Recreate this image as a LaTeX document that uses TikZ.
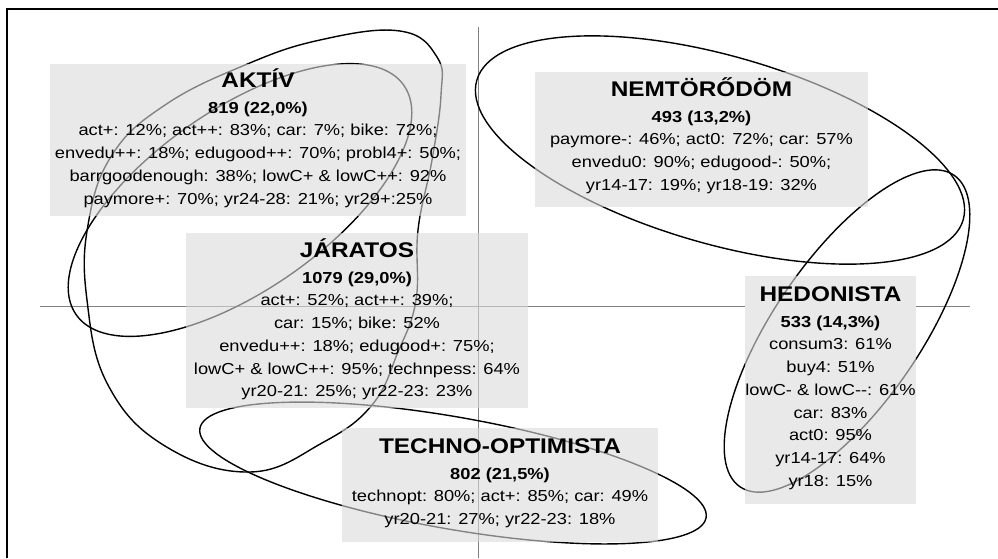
\documentclass[tikz,border=0pt]{standalone}
\usepackage{fontspec}
\setmainfont[FakeStretch=1.15]{Liberation Sans}
\definecolor{boxgray}{gray}{0.86}
\newcommand{\grptitle}[1]{\rule{0pt}{21pt}{\fontsize{21.2}{25}\selectfont\bfseries #1}}
\begin{document}
\begin{tikzpicture}[x=1pt, y=-1pt,
    frame/.style={line width=1.2pt},
    axis/.style={draw=gray, line width=1pt},
    cluster/.style={line width=1.4pt},
    group/.style={rectangle, fill=boxgray, fill opacity=0.6, inner sep=0pt},
    gtext/.style={anchor=north, align=center, inner sep=0pt, font=\fontsize{15.9}{22.7}\selectfont}
]
\useasboundingbox (0,0) rectangle (998,558);

% keret es tengelyek
\draw[frame] (998,9) -- (7,9) -- (7,558);
\draw[axis] (478,27) -- (478,558);
\draw[axis] (40,306) -- (745,306) (916,306) -- (970,306);

% ellipszisek
\draw[cluster, rotate around={35:(240,200)}] (240,200) ellipse [x radius=200, y radius=90];
\draw[cluster] plot[smooth cycle, tension=0.7] coordinates {(400,31) (437,57) (441,95) (432,160) (418,230) (416,300) (398,352) (372,405) (322,443) (250,472) (165,446) (108,385) (87,300) (88,225) (112,155) (165,105) (245,65) (320,40)};
\draw[cluster, rotate around={-16:(720,150)}] (720,150) ellipse [x radius=253, y radius=94];
\draw[cluster, rotate around={55.5:(847,331)}] (847,331) ellipse [x radius=189, y radius=73];
\draw[cluster, rotate around={-10:(453,473)}] (453,473) ellipse [x radius=257, y radius=56];

% csoportok
\node[group, minimum width=416, minimum height=152] (aktiv) at (258,140) {};
\node[group, minimum width=333, minimum height=135] (nemtorodom) at (701.5,139.5) {};
\node[group, minimum width=342, minimum height=175] (jaratos) at (357,320.5) {};
\node[group, minimum width=171, minimum height=228] (hedonista) at (830.5,390) {};
\node[group, minimum width=316, minimum height=114] (techno) at (500,485) {};

\node[gtext] (aktiv-txt) at (258,66) {\grptitle{AKTÍV}\\[3.3pt]
  \textbf{819 (22,0\%)}\\
  act+: 12\%; act++: 83\%; car: 7\%; bike: 72\%;\\
  envedu++: 18\%; edugood++: 70\%; probl4+: 50\%;\\
  barrgoodenough: 38\%; lowC+ \& lowC++: 92\%\\
  paymore+: 70\%; yr24-28: 21\%; yr29+:25\%};
\node[gtext] (nemtorodom-txt) at (701.5,75) {\grptitle{NEMTÖRŐDÖM}\\[3.3pt]
  \textbf{493 (13,2\%)}\\
  paymore-: 46\%; act0: 72\%; car: 57\%\\
  envedu0: 90\%; edugood-: 50\%;\\
  yr14-17: 19\%; yr18-19: 32\%};
\node[gtext] (jaratos-txt) at (357,236) {\grptitle{JÁRATOS}\\[3.3pt]
  \textbf{1079 (29,0\%)}\\
  act+: 52\%; act++: 39\%;\\
  car: 15\%; bike: 52\%\\
  envedu++: 18\%; edugood+: 75\%;\\
  lowC+ \& lowC++: 95\%; technpess: 64\%\\
  yr20-21: 25\%; yr22-23: 23\%};
\node[gtext] (hedonista-txt) at (830.5,280) {\grptitle{HEDONISTA}\\[3.3pt]
  \textbf{533 (14,3\%)}\\
  consum3: 61\%\\
  buy4: 51\%\\
  lowC- \& lowC-{}-: 61\%\\
  car: 83\%\\
  act0: 95\%\\
  yr14-17: 64\%\\
  yr18: 15\%};
\node[gtext] (techno-txt) at (500,432) {\grptitle{TECHNO-OPTIMISTA}\\[3.3pt]
  \textbf{802 (21,5\%)}\\
  technopt: 80\%; act+: 85\%; car: 49\%\\
  yr20-21: 27\%; yr22-23: 18\%};

\end{tikzpicture}
\end{document}
